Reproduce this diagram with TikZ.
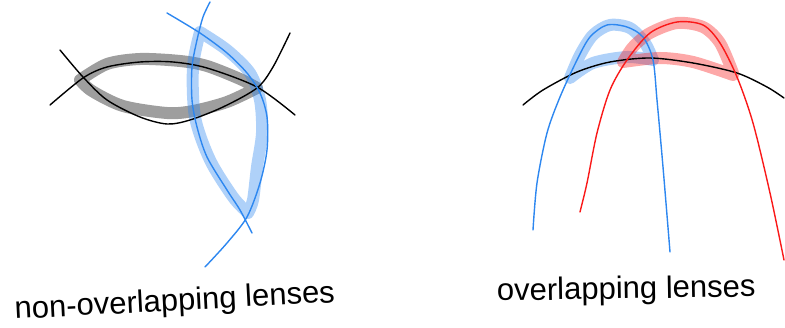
\documentclass[tikz,border=0pt]{standalone}
\usepackage{fontspec}
\setmainfont{Liberation Sans}
\definecolor{penblue}{RGB}{45,135,240}
\definecolor{penred}{RGB}{250,25,25}
\tikzset{
  pen/.style={line width=1.4pt, line cap=round, line join=round},
  hl/.style={line width=12pt, line cap=round, line join=round, draw opacity=0.38},
  lbl/.style={font=\fontsize{31}{36}\selectfont, inner sep=0pt}
}
\begin{document}
\begin{tikzpicture}[x=1pt,y=-1pt]
\useasboundingbox (0,0) rectangle (785,328);
% ---------- left: non-overlapping ----------
\draw[hl, black] plot[smooth] coordinates {(80,80) (107,64) (140,59) (180,61) (207,66) (240,79) (257,88)}
  -- plot[smooth] coordinates {(257,88) (227,102) (193,111) (167,113) (123,106) (92,91) (80,80)} -- cycle;
\draw[hl, penblue] plot[smooth] coordinates {(200,32) (193,67) (195,117) (210,160) (233,197) (248,213)}
  -- plot[smooth] coordinates {(248,213) (253,200) (257,167) (262,133) (260,100) (250,73) (227,50) (200,32)} -- cycle;
\draw[pen, black] plot[smooth] coordinates {(60,50) (83,77) (107,100) (140,117) (167,124) (190,120) (223,107) (257,88) (273,67) (290,33)};
\draw[pen, black] plot[smooth] coordinates {(50,105) (83,78) (107,67) (140,62) (173,62) (207,68) (257,87) (295,115)};
\draw[pen, penblue] plot[smooth] coordinates {(210,2) (203,17) (197,40) (192,67) (192,100) (197,127) (207,157) (227,190) (240,210) (252,233)};
\draw[pen, penblue] plot[smooth] coordinates {(167,13) (200,33) (227,53) (247,73) (260,93) (267,117) (267,150) (260,183) (247,217) (227,243) (205,267)};
\node[lbl, anchor=base west, rotate=3] (t1) at (15,319) {non-overlapping lenses};
% ---------- right: overlapping ----------
\draw[hl, penblue] plot[smooth] coordinates {(570,78) (580,55) (593,35) (610,25) (630,28) (645,43) (653,60)}
  -- plot[smooth] coordinates {(653,60) (627,57) (593,63) (570,78)} -- cycle;
\draw[hl, penred] plot[smooth] coordinates {(623,62) (633,47) (650,33) (677,23) (703,27) (720,43) (733,73)}
  -- plot[smooth] coordinates {(733,75) (693,62) (660,58) (623,62)} -- cycle;
\draw[pen, black] plot[smooth] coordinates {(523,105) (543,90) (577,72) (610,62) (650,58) (693,63) (737,73) (767,87) (784,98)};
\draw[pen, penblue] plot[smooth] coordinates {(533,230) (537,183) (547,133) (560,97) (577,60) (590,37) (607,25) (627,27) (643,37) (653,60) (657,100) (663,167) (670,252)};
\draw[pen, penred] plot[smooth] coordinates {(580,212) (587,183) (597,133) (610,90) (627,60) (650,33) (677,22) (703,25) (720,43) (737,77) (753,123) (770,193) (784,260)};
\node[lbl, anchor=base west, rotate=1] (t2) at (497,301) {overlapping lenses};
\end{tikzpicture}
\end{document}
